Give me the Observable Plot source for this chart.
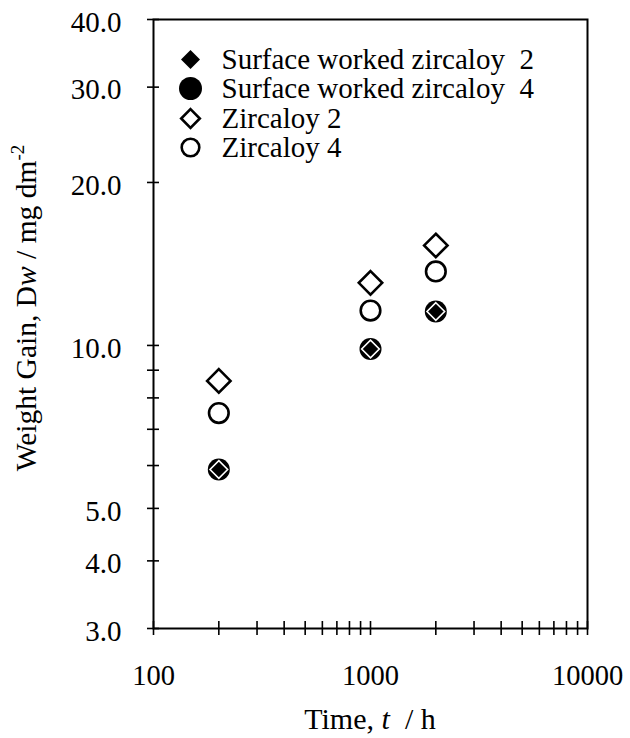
<!DOCTYPE html>
<html><head><meta charset="utf-8">
<script src="https://cdn.jsdelivr.net/npm/d3@7"></script>
<script src="https://cdn.jsdelivr.net/npm/@observablehq/plot@0.6"></script>
<style>
body{margin:0;background:#fff}
#chart svg{font-family:"Liberation Serif","Times New Roman",serif}
</style>
</head><body><div id="chart"></div>
<script>
// ---- data ----
const times = [200, 1000, 2000];                 // h
const swZr2 = [5.9, 9.85, 11.55];                // surface worked zircaloy 2
const swZr4 = [5.9, 9.85, 11.55];                // surface worked zircaloy 4
const zr2   = [8.6, 13.05, 15.3];                // zircaloy 2
const zr4   = [7.5, 11.6, 13.7];                 // zircaloy 4
const seriesNames = ["Surface worked zircaloy\u00a0 2", "Surface worked zircaloy\u00a0 4", "Zircaloy 2", "Zircaloy 4"];
const xTickLabels = [100, 1000, 10000];
const xTickMarks = [100,200,300,400,500,600,700,800,900,1000,2000,3000,4000,5000,6000,7000,8000,9000,10000];
const yTickLabels = [3, 4, 5, 10, 20, 30, 40];
const yTickMarks = [3, 4, 5, 6, 7, 8, 9, 10, 20, 30, 40];

// square rotated 45° (r = half diagonal)
const diamond = {draw(ctx, size){ const r = Math.sqrt(size/Math.PI); ctx.moveTo(0,-r); ctx.lineTo(r,0); ctx.lineTo(0,r); ctx.lineTo(-r,0); ctx.closePath(); }};

const rows = (vals, s) => times.map((t, i) => ({time: t, value: vals[i], series: s}));
const dSW2 = rows(swZr2, seriesNames[0]);
const dSW4 = rows(swZr4, seriesNames[1]);
const dZ2  = rows(zr2, seriesNames[2]);
const dZ4  = rows(zr4, seriesNames[3]);

const styles = [
  {symbol: diamond, fill: "black", stroke: "none", strokeWidth: 0, r: 9.5},
  {symbol: "circle", fill: "black", stroke: "none", strokeWidth: 0, r: 11.5},
  {symbol: diamond, fill: "none", stroke: "black", strokeWidth: 2.6, r: 9.3},
  {symbol: "circle", fill: "none", stroke: "black", strokeWidth: 2.6, r: 8.8}
];
const legendDy = [40, 69, 99, 128];

const legendMarks = seriesNames.flatMap((name, i) => [
  Plot.dot([name], {frameAnchor: "top-left", dx: 37, dy: legendDy[i], ...styles[i]}),
  Plot.text([name], {frameAnchor: "top-left", dx: 68, dy: legendDy[i], text: d => d, textAnchor: "start", lineAnchor: "middle", fontSize: 29, fill: "black"})
]);

const chart = Plot.plot({
  width: 630, height: 738,
  marginLeft: 153, marginRight: 43, marginTop: 19, marginBottom: 110,
  style: {background: "white", fontFamily: "Liberation Serif, Times New Roman, serif", fontSize: "28px", color: "black"},
  x: {type: "log", domain: [100, 10000], label: null},
  y: {type: "log", domain: [3, 40], label: null},
  marks: [
    Plot.frame({stroke: "black", strokeWidth: 2}),
    Plot.axisX(xTickMarks, {tickSize: 14, dy: -7, fill: "none", label: null, strokeWidth: 1.6}),
    Plot.axisX(xTickLabels, {tickSize: 0, tickPadding: 36, tickFormat: d => String(d), fontSize: 28.5, label: null}),
    Plot.axisY(yTickMarks, {tickSize: 12, dx: 6, fill: "none", label: null, strokeWidth: 1.6}),
    Plot.axisY(yTickLabels, {tickSize: 0, tickPadding: 32, dy: 3, tickFormat: d => d.toFixed(1), fontSize: 29, label: null}),
    Plot.dot(dZ2, {x: "time", y: "value", ...styles[2], r: 11.7}),
    Plot.dot(dZ4, {x: "time", y: "value", ...styles[3], r: 9.8}),
    Plot.dot(dSW4, {x: "time", y: "value", ...styles[1], r: 11}),
    Plot.dot(dSW2, {x: "time", y: "value", symbol: diamond, fill: "black", stroke: "white", strokeWidth: 1.6, r: 8.8}),
    ...legendMarks
  ]
});
document.getElementById("chart").appendChild(chart);

// axis titles with italic and superscript parts
const svg = d3.select(chart);
const xt = svg.append("text").attr("x", 370).attr("y", 729).attr("text-anchor", "middle")
  .attr("font-size", 30).attr("fill", "black");
xt.append("tspan").text("Time, ");
xt.append("tspan").attr("font-style", "italic").text("t");
xt.append("tspan").text("\u00a0 / h");

const yt = svg.append("text").attr("transform", "translate(36,308) rotate(-90)").attr("text-anchor", "middle")
  .attr("font-size", 29.5).attr("fill", "black");
yt.append("tspan").text("Weight Gain, D");
yt.append("tspan").attr("font-style", "italic").text("w");
yt.append("tspan").text(" / mg dm");
yt.append("tspan").attr("font-size", 19).attr("dy", -12).text("-2");
</script>
</body></html>
